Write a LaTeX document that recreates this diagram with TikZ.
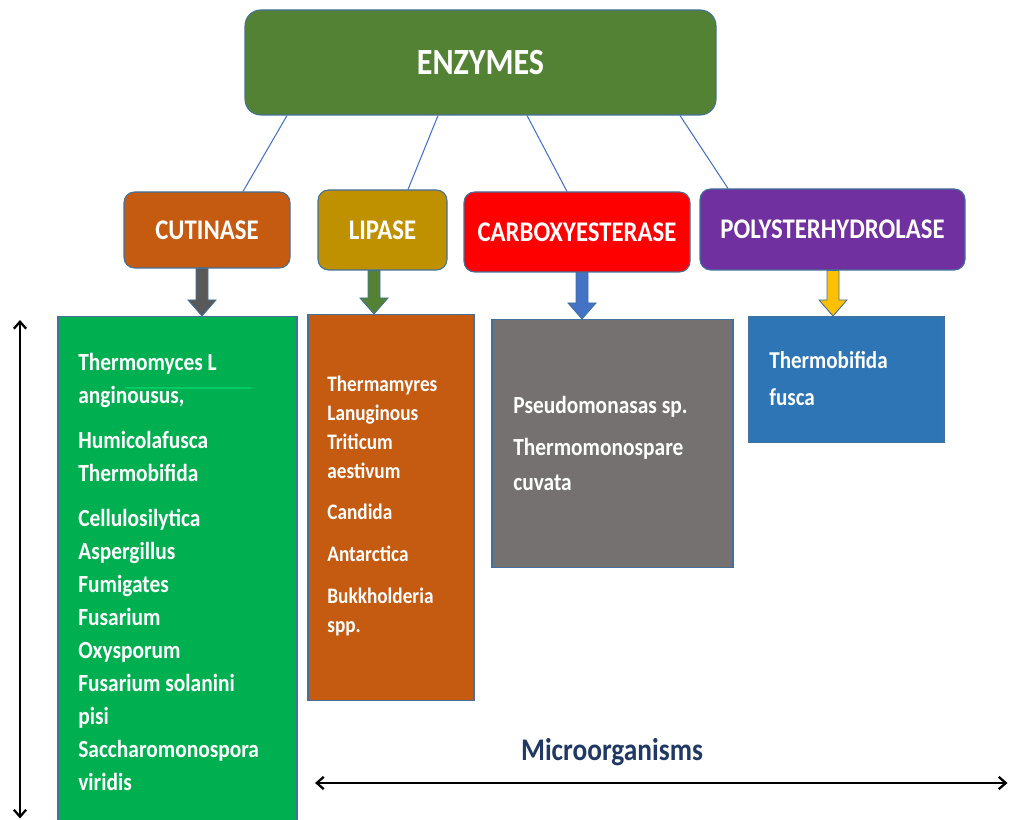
\documentclass[tikz,border=0pt]{standalone}
\usepackage{fontspec}
\setmainfont{Carlito}[FakeStretch=0.87]
\usetikzlibrary{calc,arrows.meta}

\definecolor{enzgreen}{HTML}{548235}
\definecolor{cutorange}{HTML}{C55A11}
\definecolor{lipgold}{HTML}{BF9000}
\definecolor{polypurple}{HTML}{7030A0}
\definecolor{orggreen}{HTML}{00B050}
\definecolor{orggray}{HTML}{767171}
\definecolor{orgblue}{HTML}{2E75B6}
\definecolor{arrgray}{HTML}{595959}
\definecolor{arrblue}{HTML}{4472C4}
\definecolor{arryellow}{HTML}{FFC000}
\definecolor{edgeblue}{HTML}{41719C}
\definecolor{navytext}{HTML}{1F3864}
\definecolor{strokegreen}{HTML}{00CC66}

\tikzset{
	enzbox/.style={draw=edgeblue, line width=0.6pt, rounded corners=6pt, text=white, inner sep=0pt,
		font=\bfseries\fontsize{16.2}{18}\selectfont},
	orgbox/.style={draw=edgeblue, line width=0.6pt, anchor=north, inner sep=0pt},
	orgtext/.style={anchor=north west, align=left, text=white, inner sep=0pt},
	link/.style={draw=arrblue, line width=0.6pt},
	blockarrow/.style={draw=edgeblue, line width=0.5pt},
	scalearrow/.style={{Straight Barb[length=4pt,width=7pt]}-{Straight Barb[length=4pt,width=7pt]}, line width=1.3pt},
}

% block arrow pointing down: x-coordinate, from node, to node, colour
\newcommand{\blockdown}[4]{%
	\draw[blockarrow, fill=#4] ($(#1 |- #2.south)+(-0.12,0)$) -- ($(#1 |- #3.north)+(-0.12,0.32)$)
	-- ($(#1 |- #3.north)+(-0.28,0.32)$) -- (#1 |- #3.north) -- ($(#1 |- #3.north)+(0.28,0.32)$)
	-- ($(#1 |- #3.north)+(0.12,0.32)$) -- ($(#1 |- #2.south)+(0.12,0)$) -- cycle;}

\begin{document}
\begin{tikzpicture}
	
	\useasboundingbox (0,0) rectangle (20.18,16.4);
	
	% Draw nodes, the enzymes
	\node[enzbox, fill=enzgreen, minimum width=9.42cm, minimum height=2.1cm, rounded corners=9pt,
		font=\bfseries\fontsize{21}{24}\selectfont] (enz) at (9.61,15.15) {ENZYMES};
	\node[enzbox, fill=cutorange, minimum width=3.32cm, minimum height=1.52cm] (cut) at (4.14,11.8) {CUTINASE};
	\node[enzbox, fill=lipgold, minimum width=2.58cm, minimum height=1.6cm] (lip) at (7.65,11.8) {LIPASE};
	\node[enzbox, fill=red, minimum width=4.52cm, minimum height=1.6cm] (carb) at (11.54,11.76) {CARBOXYESTERASE};
	\node[enzbox, fill=polypurple, minimum width=5.3cm, minimum height=1.62cm] (poly) at (16.65,11.81) {POLYSTERHYDROLASE};
	
	% Draw nodes, the microorganisms
	\node[orgbox, fill=orggreen, minimum width=4.78cm, minimum height=10.3cm] (fungi) at (3.55,10.08) {};
	\node[orgbox, fill=cutorange, minimum width=3.32cm, minimum height=7.72cm] (yeast) at (7.82,10.12) {};
	\node[orgbox, fill=orggray, minimum width=4.82cm, minimum height=4.96cm] (pseudo) at (12.25,10.02) {};
	\node[orgbox, fill=orgblue, minimum width=3.9cm, minimum height=2.52cm] (fusca) at (16.93,10.08) {};
	
	\node[orgtext, font=\bfseries\fontsize{14}{18.8}\selectfont] (fungitext) at (1.56,9.35)
		{Thermomyces L\\anginousus,\\[6.8pt]Humicolafusca\\Thermobifida\\[6.8pt]Cellulosilytica\\Aspergillus\\Fumigates\\Fusarium\\Oxysporum\\Fusarium solanini\\pisi\\Saccharomonospora\\viridis};
	\draw[strokegreen, line width=0.8pt] (2.5,8.64) -- (5.04,8.64);
	\node[orgtext, font=\bfseries\fontsize{12.6}{16.5}\selectfont] (yeasttext) at (6.54,8.88)
		{Thermamyres\\Lanuginous\\Triticum\\aestivum\\[6.5pt]Candida\\[7.5pt]Antarctica\\[7.5pt]Bukkholderia\\spp.};
	\node[orgtext, font=\bfseries\fontsize{14}{19.9}\selectfont] (pseudotext) at (10.26,8.49)
		{Pseudomonasas sp.\\[4pt]Thermomonospare\\cuvata};
	\node[orgtext, font=\bfseries\fontsize{13.8}{21}\selectfont] (fuscatext) at (15.38,9.38)
		{Thermobifida\\fusca};
	
	% Draw links from the enzymes box
	\draw[link] ([xshift=-3.87cm]enz.south) -- ([xshift=0.72cm]cut.north);
	\draw[link] ([xshift=-0.85cm]enz.south) -- ([xshift=0.51cm]lip.north);
	\draw[link] ([xshift=0.93cm]enz.south) -- ([xshift=-0.2cm]carb.north);
	\draw[link] ([xshift=3.99cm]enz.south) -- ([xshift=-2.09cm]poly.north);
	
	% Draw block arrows down to the microorganisms
	\coordinate (ax1) at (4.04,0);
	\coordinate (ax2) at (7.48,0);
	\coordinate (ax3) at (11.64,0);
	\coordinate (ax4) at (16.66,0);
	\blockdown{ax1}{cut}{fungi}{arrgray}
	\blockdown{ax2}{lip}{yeast}{enzgreen}
	\blockdown{ax3}{carb}{pseudo}{arrblue}
	\blockdown{ax4}{poly}{fusca}{arryellow}
	
	% Draw the scale arrows
	\coordinate (vtop) at (0.4,10.0);
	\coordinate (vbot) at (0.4,0.03);
	\coordinate (hleft) at (6.3,0.74);
	\coordinate (hright) at (20.15,0.74);
	\draw[scalearrow] (vtop) -- (vbot);
	\draw[scalearrow] (hleft) -- (hright);
	\node[text=navytext, font=\bfseries\fontsize{17.9}{20}\selectfont] (micro) at (12.24,1.36) {Microorganisms};
	
\end{tikzpicture}
\end{document}
